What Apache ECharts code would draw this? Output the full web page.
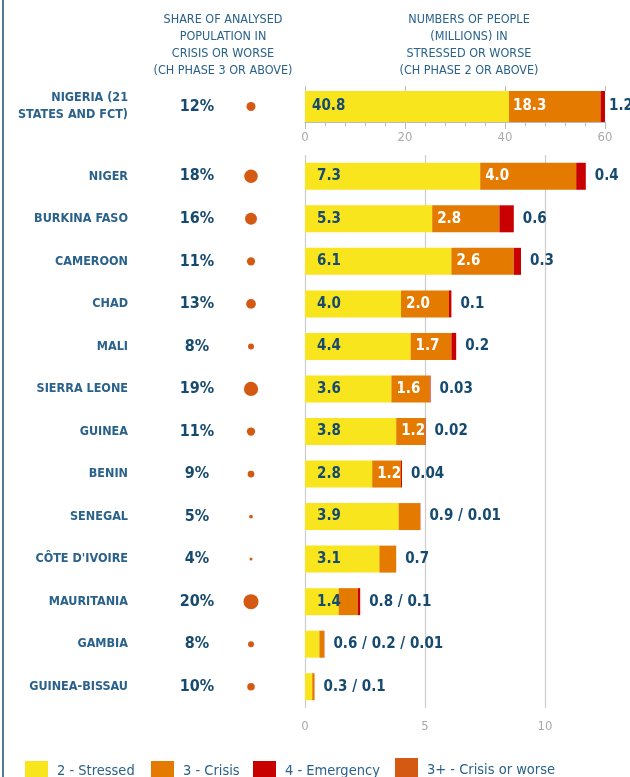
<!DOCTYPE html>
<html>
<head>
<meta charset="utf-8">
<script src="https://cdn.jsdelivr.net/npm/echarts@6/dist/echarts.min.js"></script>
<style>
  html, body { margin: 0; padding: 0; background: #fff; }
  #chart { width: 630px; height: 777px; }
</style>
</head>
<body>
<div id="chart"></div>
<script>
// --- data ---
const nigeriaName = ['NIGERIA (21\nSTATES AND FCT)'];
const nigeriaShare = [12];
const nigeriaStressed = [40.8];
const nigeriaCrisis = [18.3];
const nigeriaEmergency = [1.2];
const nigeriaStressedText = ['40.8'];
const nigeriaCrisisText = ['18.3'];
const nigeriaEndText = ['1.2'];
const nigeriaTicks = [0, 20, 40, 60];

const countries = ['NIGER', 'BURKINA FASO', 'CAMEROON', 'CHAD', 'MALI', 'SIERRA LEONE', 'GUINEA',
  'BENIN', 'SENEGAL', "CÔTE D'IVOIRE", 'MAURITANIA', 'GAMBIA', 'GUINEA-BISSAU'];
const shareCrisis = [18, 16, 11, 13, 8, 19, 11, 9, 5, 4, 20, 8, 10];
const stressed = [7.3, 5.3, 6.1, 4.0, 4.4, 3.6, 3.8, 2.8, 3.9, 3.1, 1.4, 0.6, 0.3];
const crisis = [4.0, 2.8, 2.6, 2.0, 1.7, 1.6, 1.2, 1.2, 0.9, 0.7, 0.8, 0.2, 0.1];
const emergency = [0.4, 0.6, 0.3, 0.1, 0.2, 0.03, 0.02, 0.04, 0.01, 0, 0.1, 0.01, 0];
const stressedText = ['7.3', '5.3', '6.1', '4.0', '4.4', '3.6', '3.8', '2.8', '3.9', '3.1', '1.4', '', ''];
const crisisText = ['4.0', '2.8', '2.6', '2.0', '1.7', '1.6', '1.2', '1.2', '', '', '', '', ''];
const endText = ['0.4', '0.6', '0.3', '0.1', '0.2', '0.03', '0.02', '0.04', '0.9 / 0.01', '0.7',
  '0.8 / 0.1', '0.6 / 0.2 / 0.01', '0.3 / 0.1'];
const lowerTicks = [0, 5, 10];

const phases = ['2 - Stressed', '3 - Crisis', '4 - Emergency', '3+ - Crisis or worse'];

// --- style ---
const FONT = "'DejaVu Sans Condensed', 'Roboto', sans-serif";
const NAVY = '#164a6f';
const BLUE = '#2a628b';
const YELLOW = '#f8e51e';
const ORANGE = '#e57a00';
const RED = '#c80000';
const DOT = '#d45a14';
const GRID_GREY = '#cccccc';
const TICK_GREY = '#aaaaaa';

const chart = echarts.init(document.getElementById('chart'), null, { renderer: 'canvas' });

function barLabel(texts, pos, dist, color) {
  return {
    show: true, position: pos, distance: dist, color: color, overflow: 'none',
    fontFamily: FONT, fontSize: 15, fontWeight: 'bold',
    formatter: p => texts[p.dataIndex]
  };
}

function stackSeries(axisIdx, vals, texts, dists) {
  const [s, c, e] = vals;
  const [st, ct, et] = texts;
  const common = { type: 'bar', stack: 'p' + axisIdx, xAxisIndex: axisIdx, yAxisIndex: axisIdx,
    barWidth: axisIdx === 0 ? 31 : 27, animation: false, labelLayout: { hideOverlap: false } };
  return [
    Object.assign({}, common, { name: phases[0], data: s, itemStyle: { color: YELLOW },
      label: barLabel(st, 'insideLeft', dists[0], NAVY) }),
    Object.assign({}, common, { name: phases[1], data: c, itemStyle: { color: ORANGE },
      label: barLabel(ct, 'insideLeft', dists[1], '#ffffff') }),
    Object.assign({}, common, { name: phases[2], data: e, itemStyle: { color: RED },
      label: barLabel(et, 'right', dists[2], NAVY) })
  ];
}

function sideSeries(axisIdx, names, shares, withLegend) {
  return [
    { type: 'scatter', xAxisIndex: axisIdx, yAxisIndex: axisIdx, symbolSize: 0, silent: true,
      itemStyle: { opacity: 1 },
      data: names.map((n, i) => ['share', n, shares[i]]),
      label: { show: true, position: 'inside', formatter: p => p.value[2] + '%',
        fontFamily: FONT, fontSize: 16, fontWeight: 'bold', color: NAVY } },
    { type: 'scatter', name: withLegend ? phases[3] : undefined, xAxisIndex: axisIdx, yAxisIndex: axisIdx,
      data: names.map((n, i) => ['dot', n, shares[i]]),
      symbolSize: v => v[2] * 0.75, itemStyle: { color: DOT, opacity: 1 } }
  ];
}

const legendBase = {
  top: 756, itemWidth: 23, itemHeight: 20, icon: 'rect',
  textStyle: { fontFamily: FONT, fontSize: 14.5, color: BLUE, padding: [0, 0, 0, 4] }
};

chart.setOption({
  backgroundColor: '#fff',
  animation: false,
  textStyle: { fontFamily: FONT },
  grid: [
    { left: 305, top: 91, width: 300, height: 31, outerBoundsMode: 'none' },    // Nigeria bars
    { left: 305, top: 155, width: 360, height: 553, outerBoundsMode: 'none' },  // other countries
    { left: 170, top: 91, width: 108, height: 31, outerBoundsMode: 'none' },    // Nigeria share
    { left: 170, top: 155, width: 108, height: 553, outerBoundsMode: 'none' }   // others share
  ],
  xAxis: [
    { gridIndex: 0, type: 'value', position: 'bottom',
      min: nigeriaTicks[0], max: nigeriaTicks[nigeriaTicks.length - 1], interval: 20,
      axisLine: { show: true, lineStyle: { color: '#bbbbbb' } },
      axisTick: { show: true, length: 7, lineStyle: { color: '#bbbbbb' } },
      minorTick: { show: true, splitNumber: 5, length: 4, lineStyle: { color: '#bbbbbb' } },
      splitLine: { show: false },
      axisLabel: { color: TICK_GREY, fontSize: 13, margin: 9, fontFamily: FONT } },
    { gridIndex: 1, type: 'value', min: lowerTicks[0], max: 15, interval: 5,
      axisLine: { show: false }, axisTick: { show: false },
      splitLine: { show: true, lineStyle: { color: GRID_GREY, width: 1.2 } },
      axisLabel: { color: TICK_GREY, fontSize: 13, margin: 12, fontFamily: FONT,
        formatter: v => lowerTicks.includes(v) ? String(v) : '' } },
    { gridIndex: 2, type: 'category', data: ['share', 'dot'], show: false },
    { gridIndex: 3, type: 'category', data: ['share', 'dot'], show: false },
    { gridIndex: 0, type: 'value', position: 'top',
      min: nigeriaTicks[0], max: nigeriaTicks[nigeriaTicks.length - 1], interval: 20,
      axisLine: { show: false }, axisLabel: { show: false }, splitLine: { show: false },
      axisTick: { show: true, length: 5, lineStyle: { color: '#bbbbbb' } } }
  ],
  yAxis: [
    { gridIndex: 0, type: 'category', data: nigeriaName, inverse: true,
      axisLine: { show: false }, axisTick: { show: false },
      axisLabel: { margin: 177, color: BLUE, fontSize: 12.5, fontWeight: 'bold', lineHeight: 17, fontFamily: FONT } },
    { gridIndex: 1, type: 'category', data: countries, inverse: true,
      axisLine: { show: false }, axisTick: { show: false },
      axisLabel: { margin: 177, color: BLUE, fontSize: 12.5, fontWeight: 'bold', fontFamily: FONT } },
    { gridIndex: 2, type: 'category', data: nigeriaName, inverse: true, show: false },
    { gridIndex: 3, type: 'category', data: countries, inverse: true, show: false }
  ],
  legend: [
    Object.assign({}, legendBase, { left: 20, data: [phases[0]] }),
    Object.assign({}, legendBase, { left: 146, data: [phases[1]] }),
    Object.assign({}, legendBase, { left: 248, data: [phases[2]] }),
    Object.assign({}, legendBase, { left: 390, top: 753, itemHeight: 24, data: [phases[3]] })
  ],
  graphic: [
    { type: 'line', shape: { x1: 3, y1: 0, x2: 3, y2: 777 }, style: { stroke: '#1d4c70', lineWidth: 1.5 } },
    { type: 'text', x: 223, y: 11, style: {
      text: 'SHARE OF ANALYSED\nPOPULATION IN\nCRISIS OR WORSE\n(CH PHASE 3 OR ABOVE)',
      textAlign: 'center', fill: BLUE, font: '12.5px ' + FONT, lineHeight: 17 } },
    { type: 'text', x: 469, y: 11, style: {
      text: 'NUMBERS OF PEOPLE\n(MILLIONS) IN\nSTRESSED OR WORSE\n(CH PHASE 2 OR ABOVE)',
      textAlign: 'center', fill: BLUE, font: '12.5px ' + FONT, lineHeight: 17 } }
  ],
  series: [
    ...stackSeries(0, [nigeriaStressed, nigeriaCrisis, nigeriaEmergency],
      [nigeriaStressedText, nigeriaCrisisText, nigeriaEndText], [7, 4, 4]),
    ...stackSeries(1, [stressed, crisis, emergency], [stressedText, crisisText, endText], [12, 5, 9]),
    ...sideSeries(2, nigeriaName, nigeriaShare, true),
    ...sideSeries(3, countries, shareCrisis, true)
  ]
});

window.addEventListener('resize', () => chart.resize());
</script>
</body>
</html>
